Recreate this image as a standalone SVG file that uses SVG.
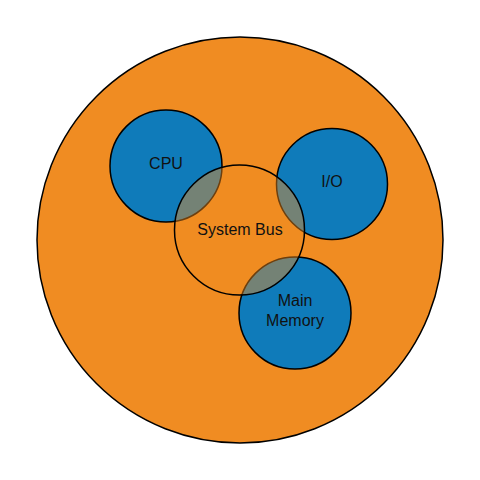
<svg xmlns="http://www.w3.org/2000/svg" width="480" height="480" viewBox="0 0 480 480">
<style>
.c{stroke:#000;stroke-width:1.5}
.outer{fill:#F08C22}
.blue{fill:#0F7BBA}
.bus{fill:#F08C22;fill-opacity:0.45}
text{font-family:"Liberation Sans",Arial,sans-serif;font-size:16px;fill:#111;text-anchor:middle}
</style>
<rect width="480" height="480" fill="#fff"/>
<g id="computer"><circle class="c outer" cx="240" cy="240" r="203"/></g>
<g id="cpu"><circle class="c blue" cx="166" cy="166" r="56"/><text x="166" y="169">CPU</text></g>
<g id="io"><circle class="c blue" cx="332" cy="184" r="55.5"/><text x="332" y="187">I/O</text></g>
<g id="memory"><circle class="c blue" cx="295" cy="313" r="56"/><text x="295" y="306">Main</text><text x="295" y="326">Memory</text></g>
<g id="bus"><circle class="c bus" cx="239.5" cy="230" r="65"/><text x="240" y="235">System Bus</text></g>
<g id="connectors"></g>
</svg>
